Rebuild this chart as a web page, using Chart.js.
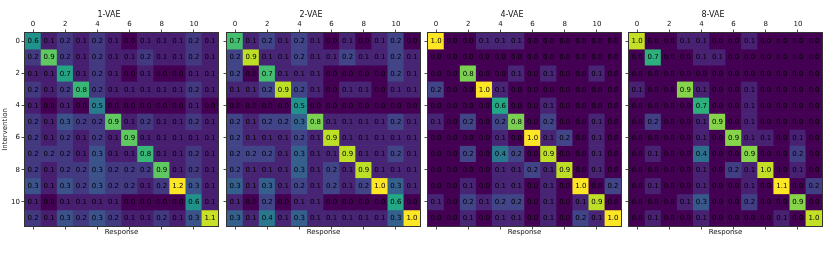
<!DOCTYPE html>
<html>
<head>
<meta charset="utf-8">
<script src="https://cdn.jsdelivr.net/npm/chart.js@4.4.1/dist/chart.umd.min.js"></script>
<style>
  html, body { margin: 0; padding: 0; background: #fff; }
  #wrap { position: relative; width: 830px; height: 260px; overflow: hidden; }
  #wrap canvas { position: absolute; top: 0; }
</style>
</head>
<body>
<div id="wrap"></div>
<script>
// ---- data (rounded as printed) ----
const INDEX = [0, 1, 2, 3, 4, 5, 6, 7, 8, 9, 10, 11];
const TICKS = [0, 2, 4, 6, 8, 10];
const TITLES = ['1-VAE', '2-VAE', '4-VAE', '8-VAE'];

const VAE1 = [
  [0.6,0.1,0.2,0.1,0.2,0.1,0.0,0.1,0.1,0.1,0.2,0.1],
  [0.2,0.9,0.2,0.1,0.2,0.1,0.1,0.2,0.1,0.1,0.2,0.1],
  [0.1,0.1,0.7,0.1,0.2,0.1,0.0,0.1,0.0,0.0,0.1,0.1],
  [0.2,0.1,0.2,0.8,0.2,0.1,0.1,0.1,0.1,0.1,0.2,0.1],
  [0.1,0.0,0.1,0.0,0.5,0.0,0.0,0.0,0.0,0.0,0.1,0.0],
  [0.2,0.1,0.3,0.2,0.2,0.9,0.1,0.2,0.1,0.1,0.2,0.1],
  [0.2,0.1,0.2,0.1,0.2,0.1,0.9,0.1,0.1,0.1,0.1,0.1],
  [0.2,0.2,0.2,0.1,0.3,0.1,0.1,0.8,0.1,0.1,0.2,0.1],
  [0.2,0.1,0.2,0.2,0.3,0.2,0.2,0.2,0.9,0.1,0.2,0.1],
  [0.3,0.1,0.3,0.2,0.3,0.2,0.2,0.1,0.2,1.2,0.3,0.1],
  [0.1,0.0,0.1,0.1,0.1,0.1,0.0,0.0,0.0,0.0,0.6,0.1],
  [0.2,0.1,0.3,0.2,0.3,0.2,0.1,0.1,0.2,0.1,0.3,1.1]
];
const VAE2 = [
  [0.7,0.1,0.2,0.1,0.2,0.1,0.0,0.1,0.0,0.1,0.2,0.0],
  [0.2,0.9,0.1,0.1,0.2,0.1,0.1,0.2,0.1,0.1,0.2,0.1],
  [0.2,0.0,0.7,0.1,0.1,0.1,0.0,0.0,0.0,0.0,0.2,0.1],
  [0.1,0.1,0.2,0.9,0.2,0.1,0.0,0.1,0.1,0.0,0.1,0.1],
  [0.0,0.0,0.0,0.0,0.5,0.0,0.0,0.0,0.0,0.0,0.0,0.0],
  [0.2,0.1,0.2,0.2,0.3,0.8,0.1,0.1,0.1,0.1,0.2,0.1],
  [0.2,0.1,0.1,0.1,0.2,0.1,0.9,0.1,0.1,0.1,0.1,0.1],
  [0.2,0.2,0.2,0.1,0.3,0.1,0.1,0.9,0.1,0.1,0.2,0.1],
  [0.2,0.1,0.1,0.1,0.3,0.1,0.2,0.1,0.9,0.1,0.1,0.1],
  [0.3,0.1,0.3,0.1,0.2,0.1,0.2,0.1,0.2,1.0,0.3,0.1],
  [0.1,0.0,0.2,0.0,0.1,0.1,0.0,0.0,0.0,0.0,0.6,0.0],
  [0.3,0.1,0.4,0.1,0.3,0.1,0.1,0.1,0.1,0.1,0.3,1.0]
];
const VAE4 = [
  [1.0,0.0,0.0,0.1,0.1,0.1,0.0,0.0,0.0,0.0,0.0,0.0],
  [0.0,0.0,0.0,0.0,0.0,0.0,0.0,0.0,0.0,0.0,0.0,0.0],
  [0.0,0.0,0.8,0.0,0.0,0.1,0.0,0.1,0.0,0.0,0.1,0.0],
  [0.2,0.0,0.0,1.0,0.1,0.0,0.0,0.0,0.0,0.0,0.0,0.0],
  [0.0,0.0,0.0,0.0,0.6,0.0,0.0,0.1,0.0,0.0,0.0,0.0],
  [0.1,0.0,0.2,0.0,0.2,0.8,0.0,0.2,0.0,0.0,0.1,0.0],
  [0.0,0.0,0.0,0.0,0.1,0.0,1.0,0.1,0.2,0.0,0.1,0.0],
  [0.0,0.0,0.2,0.0,0.4,0.2,0.0,0.9,0.0,0.0,0.1,0.0],
  [0.0,0.0,0.0,0.0,0.1,0.1,0.2,0.1,0.9,0.0,0.1,0.0],
  [0.0,0.0,0.1,0.0,0.1,0.1,0.0,0.1,0.0,1.0,0.0,0.2],
  [0.1,0.0,0.2,0.1,0.2,0.2,0.0,0.1,0.0,0.1,0.9,0.0],
  [0.0,0.0,0.1,0.0,0.1,0.1,0.0,0.1,0.0,0.2,0.1,1.0]
];
const VAE8 = [
  [1.0,0.0,0.0,0.1,0.1,0.0,0.0,0.1,0.0,0.0,0.0,0.0],
  [0.0,0.7,0.0,0.0,0.1,0.1,0.0,0.0,0.0,0.0,0.0,0.0],
  [0.0,0.0,0.0,0.0,0.0,0.0,0.0,0.0,0.0,0.0,0.0,0.0],
  [0.1,0.0,0.0,0.9,0.1,0.0,0.0,0.1,0.0,0.0,0.0,0.0],
  [0.0,0.0,0.0,0.0,0.7,0.0,0.0,0.1,0.0,0.0,0.0,0.0],
  [0.0,0.2,0.0,0.0,0.1,0.9,0.0,0.1,0.0,0.0,0.0,0.0],
  [0.0,0.0,0.0,0.0,0.1,0.0,0.9,0.1,0.1,0.0,0.1,0.0],
  [0.0,0.1,0.0,0.0,0.4,0.0,0.0,0.9,0.0,0.0,0.2,0.0],
  [0.0,0.0,0.0,0.0,0.1,0.0,0.2,0.1,1.0,0.0,0.1,0.0],
  [0.0,0.1,0.0,0.0,0.1,0.0,0.0,0.1,0.0,1.1,0.0,0.2],
  [0.0,0.0,0.0,0.1,0.3,0.0,0.0,0.2,0.0,0.0,0.9,0.0],
  [0.0,0.1,0.0,0.0,0.1,0.0,0.0,0.0,0.0,0.1,0.0,1.0]
];
const PANELS = [VAE1, VAE2, VAE4, VAE8];

// ---- look ----
const PLOT_LEFT = [25, 227, 428, 629];
const AXIS_W = 25;
const FONT = '"DejaVu Sans", sans-serif';
const VIRIDIS = ['#440154','#482475','#414487','#355f8d','#2a788e','#21918c',
                 '#22a884','#44bf70','#7ad151','#bddf26','#fde725'];

function hex(h){ return [1,3,5].map(i => parseInt(h.substr(i,2),16)); }
function viridis(t){
  t = Math.max(0, Math.min(1, t));
  const p = t * (VIRIDIS.length - 1);
  const i = Math.min(VIRIDIS.length - 2, Math.floor(p));
  const f = p - i;
  const a = hex(VIRIDIS[i]), b = hex(VIRIDIS[i+1]);
  const c = a.map((v,k) => Math.round(v + (b[k]-v)*f));
  return 'rgb(' + c.join(',') + ')';
}

const cellPlugin = {
  id: 'cells',
  afterDatasetsDraw(chart){
    const ctx = chart.ctx;
    ctx.save();
    ctx.font = '7px ' + FONT;
    ctx.fillStyle = '#000';
    ctx.textAlign = 'center';
    ctx.textBaseline = 'middle';
    chart.data.datasets.forEach((ds, r) => {
      chart.getDatasetMeta(r).data.forEach((bar, c) => {
        const p = bar.getProps(['x','y','base'], true);
        ctx.fillText(ds.values[c].toFixed(1), p.x, (p.y + p.base) / 2 + 0.5);
      });
    });
    ctx.restore();
  },
  afterDraw(chart){
    const a = chart.chartArea, ctx = chart.ctx;
    ctx.save();
    ctx.strokeStyle = '#333';
    ctx.lineWidth = 1;
    ctx.strokeRect(a.left - 0.5, a.top - 0.5, a.right - a.left + 1, a.bottom - a.top + 1);
    ctx.restore();
  }
};

function fixTicks(s){ s.ticks = TICKS.map(v => ({value: v})); }
function fitH(h){ return s => { s.height = h; s.paddingLeft = 0; s.paddingRight = 0; }; }
function fitV(w){ return s => { s.width = w; s.paddingTop = 0; s.paddingBottom = 0; }; }

function makePanel(n){
  const values = PANELS[n];
  const vmax = Math.max(...values.flat());
  const first = n === 0;
  const canvas = document.createElement('canvas');
  canvas.width = AXIS_W + 193 + 5;
  canvas.height = 260;
  canvas.style.left = (PLOT_LEFT[n] - AXIS_W) + 'px';
  document.getElementById('wrap').appendChild(canvas);

  const datasets = INDEX.map(r => ({
    data: INDEX.map(c => ({x: c, y: [r - 0.5, r + 0.5]})),
    values: values[r],
    backgroundColor: INDEX.map(c => viridis(values[r][c] / vmax)),
    borderWidth: 0,
    barPercentage: 1,
    categoryPercentage: 1,
    grouped: false
  }));

  const tickGrid = {drawOnChartArea: false, drawTicks: true, offset: false, tickLength: 3.5, tickWidth: 0.8, tickColor: '#222'};
  new Chart(canvas, {
    type: 'bar',
    data: {datasets},
    options: {
      responsive: false,
      animation: false,
      devicePixelRatio: 1,
      layout: {padding: {left: 0, right: 5, top: 0, bottom: 22}},
      plugins: {
        legend: {display: false},
        tooltip: {enabled: false},
        title: {display: true, text: TITLES[n], color: '#111',
                font: {family: FONT, size: 8, weight: 'normal', lineHeight: 1}, padding: {top: 11, bottom: 1}}
      },
      scales: {
        x: {
          type: 'linear', position: 'top', min: -0.5, max: 11.5, offset: false,
          afterBuildTicks: fixTicks,
          afterFit: fitH(13),
          grid: tickGrid, border: {display: false},
          ticks: {color: '#111', padding: 1.5, autoSkip: false, maxRotation: 0, font: {family: FONT, size: 7}}
        },
        x2: {
          type: 'linear', position: 'bottom', min: -0.5, max: 11.5, offset: false,
          afterBuildTicks: fixTicks,
          afterFit: fitH(12),
          grid: tickGrid, border: {display: false},
          ticks: {display: false},
          title: {display: true, text: 'Response', color: '#111',
                  font: {family: FONT, size: 7}, padding: {top: 0, bottom: 2}}
        },
        y: {
          type: 'linear', position: 'left', reverse: true, min: -0.5, max: 11.5,
          afterBuildTicks: fixTicks,
          afterFit: fitV(AXIS_W),
          grid: tickGrid, border: {display: false},
          ticks: {display: first, color: '#111', padding: 1.5, autoSkip: false, font: {family: FONT, size: 7}},
          title: {display: first, text: 'Intervention', color: '#111',
                  font: {family: FONT, size: 7}, padding: {top: 1, bottom: 0}}
        }
      }
    },
    plugins: [cellPlugin]
  });
}

PANELS.forEach((p, i) => makePanel(i));
</script>
</body>
</html>
